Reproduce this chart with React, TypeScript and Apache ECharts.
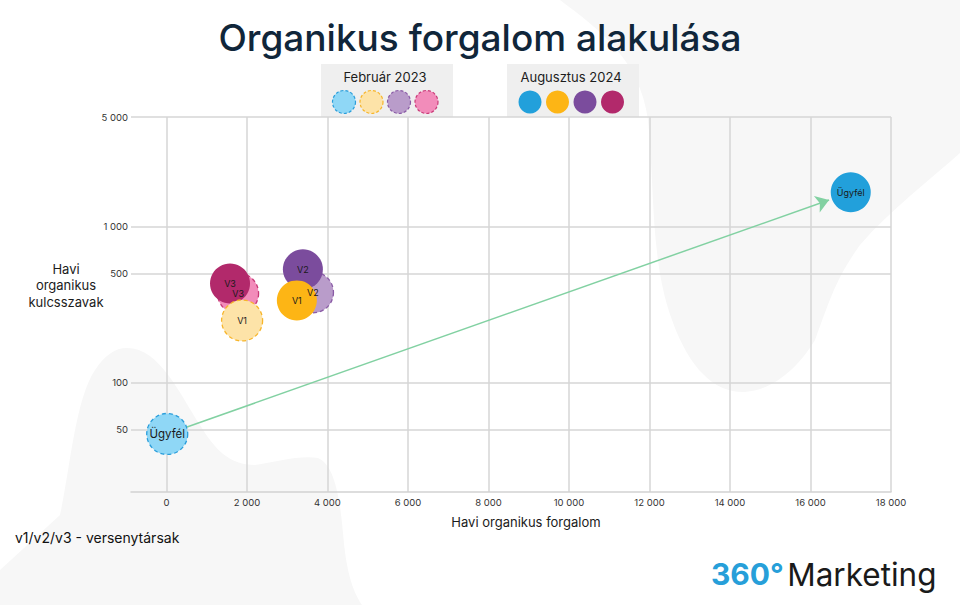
import React, { useEffect, useRef } from "react";
import * as echarts from "echarts";

const FONT = "Inter, 'Noto Sans', sans-serif";

const periods = ["Február 2023", "Augusztus 2024"];
const entities = ["Ügyfél", "V1", "V2", "V3"];

// x: Havi organikus forgalom, y: Havi organikus kulcsszavak
const trafficFeb2023 = [20, 1880, 3640, 1780];
const keywordsFeb2023 = [47, 250, 378, 372];
const trafficAug2024 = [17000, 3240, 3390, 1580];
const keywordsAug2024 = [1650, 336, 531, 431];

const xTicks = [0, 2000, 4000, 6000, 8000, 10000, 12000, 14000, 16000, 18000];
const yTicks = [50, 100, 500, 1000, 5000];

const lightColors = ["#8fd7f6", "#fde3a8", "#b99cca", "#f28cba"];
const lightBorders = ["#2a9edb", "#f7b52a", "#8a5ba6", "#c93a78"];
const darkColors = ["#22a0db", "#fdb515", "#7b4c9d", "#b2296b"];

const blobRight =
  "M560,0 C600,30 640,60 648,120 C655,190 650,260 672,320 C690,370 715,393 745,392 C775,390 800,365 815,340 C830,300 835,280 860,245 C890,210 930,180 960,153 L960,0 Z";
const blobLeft =
  "M0,570 L60,515 C70,470 75,400 95,370 C105,355 115,348 127,348 C160,348 180,395 200,425 C215,450 230,465 255,465 C275,462 300,455 318,458 C335,465 340,500 343,533 C346,570 352,590 362,605 L0,605 Z";

echarts.graphic.registerShape("blobRight", echarts.graphic.extendPath(blobRight, {}));
echarts.graphic.registerShape("blobLeft", echarts.graphic.extendPath(blobLeft, {}));

const fmt = (v: number) => String(v).replace(/\B(?=(\d{3})+(?!\d))/g, " ");

export default function App() {
  const chartRef = useRef<HTMLDivElement>(null);

  useEffect(() => {
    document.body.style.margin = "0";
    if (!chartRef.current) return;
    const chart = echarts.init(chartRef.current, undefined, { renderer: "svg" });

    // draw order: Ügyfél, V3, V2, V1 — older period under the newer one
    const order = [0, 3, 2, 1];
    const series: any[] = [];
    order.forEach((i) => {
      series.push({
        name: periods[0],
        type: "scatter",
        symbolSize: 41,
        data: [{ name: entities[i], value: [trafficFeb2023[i], keywordsFeb2023[i]] }],
        itemStyle: {
          color: lightColors[i],
          borderColor: lightBorders[i],
          borderWidth: 1.3,
          borderType: [4, 3],
          opacity: 1,
        },
        label: {
          show: true,
          position: "inside",
          formatter: "{b}",
          fontSize: i === 0 ? 11.5 : 9,
          color: "#1a1a1a",
          fontFamily: FONT,
        },
        emphasis: { disabled: true },
      });
      series.push({
        name: periods[1],
        type: "scatter",
        symbolSize: 40,
        data: [{ name: entities[i], value: [trafficAug2024[i], keywordsAug2024[i]] }],
        itemStyle: { color: darkColors[i], opacity: 1 },
        label: {
          show: true,
          position: "inside",
          formatter: "{b}",
          fontSize: 9,
          color: "#1a1a1a",
          fontFamily: FONT,
        },
        emphasis: { disabled: true },
      });
    });

    series.push({
      id: "arrow",
      type: "scatter",
      data: [],
      silent: true,
    });

    const legendBox = (x: number, title: string, colors: string[], borders: string[] | null) => {
      const children: any[] = [
        { type: "rect", shape: { x: 0, y: 0, width: 132, height: 53 }, style: { fill: "#efefef" } },
        {
          type: "text",
          x: 64,
          y: 13,
          style: {
            text: title,
            fontSize: 13,
            fontFamily: FONT,
            fill: "#1c1c1c",
            align: "center",
            verticalAlign: "middle",
            textAlign: "center",
            textVerticalAlign: "middle",
          },
        },
      ];
      colors.forEach((c, k) => {
        children.push({
          type: "circle",
          shape: { cx: 23 + k * 27.5, cy: 38, r: 11.5 },
          style: borders
            ? { fill: c, stroke: borders[k], lineWidth: 1.2, lineDash: [3, 2] }
            : { fill: c },
        });
      });
      return { type: "group", x, y: 64, z: 10, children };
    };

    const option: any = {
      animation: false,
      backgroundColor: "#ffffff",
      textStyle: { fontFamily: FONT },
      grid: { left: 131, right: 69, top: 117, bottom: 113, containLabel: false },
      xAxis: {
        type: "value",
        min: -880,
        max: 18000,
        name: "Havi organikus forgalom",
        nameLocation: "middle",
        nameGap: 23,
        nameTextStyle: { fontSize: 13, color: "#1b1b1b", padding: [0, 0, 0, 30], fontFamily: FONT },
        axisLine: { show: true, onZero: false, lineStyle: { color: "#d2d2d2", width: 1.5 } },
        axisTick: { show: false, customValues: xTicks },
        axisLabel: { customValues: xTicks, formatter: fmt, fontSize: 9.5, color: "#333", margin: 5, fontFamily: FONT },
        splitLine: { show: true, lineStyle: { color: "#d6d6d6", width: 1.5 } },
      },
      yAxis: {
        type: "log",
        logBase: 10,
        min: 20,
        max: 5000,
        axisLine: { show: false },
        axisTick: { show: false, customValues: yTicks },
        axisLabel: { customValues: yTicks, formatter: fmt, fontSize: 9.5, color: "#333", margin: 3, fontFamily: FONT },
        splitLine: { show: true, lineStyle: { color: "#d6d6d6", width: 1.5 } },
      },
      graphic: [
        { type: "blobRight", x: 0, y: 0, z: -10, silent: true, style: { fill: "#f7f7f7" } },
        { type: "blobLeft", x: 0, y: 0, z: -10, silent: true, style: { fill: "#f7f7f7" } },
        {
          type: "text",
          x: 480,
          y: 37,
          z: 10,
          style: {
            text: "Organikus forgalom alakulása",
            fontSize: 37,
            fontWeight: 500,
            fontFamily: FONT,
            fill: "#10263a",
            align: "center",
            verticalAlign: "middle",
            textAlign: "center",
            textVerticalAlign: "middle",
          },
        },
        legendBox(321, periods[0], lightColors, lightBorders),
        legendBox(507, periods[1], darkColors, null),
        {
          // y axis title
          type: "text",
          x: 66,
          y: 285,
          z: 10,
          style: {
            text: "Havi\norganikus\nkulcsszavak",
            fontSize: 13,
            lineHeight: 16.5,
            fontFamily: FONT,
            fill: "#1b1b1b",
            align: "center",
            verticalAlign: "middle",
            textAlign: "center",
            textVerticalAlign: "middle",
          },
        },
        {
          type: "text",
          x: 15,
          y: 537,
          z: 10,
          style: {
            text: "v1/v2/v3 - versenytársak",
            fontSize: 14,
            fontFamily: FONT,
            fill: "#111",
            verticalAlign: "middle",
            textVerticalAlign: "middle",
          },
        },
        {
          type: "text",
          x: 711,
          y: 574,
          z: 10,
          style: {
            text: "{a|360°} {b|Marketing}",
            verticalAlign: "middle",
            textVerticalAlign: "middle",
            rich: {
              a: { fontSize: 30, fontWeight: 700, fontFamily: FONT, fill: "#279fd9", color: "#279fd9" },
              b: { fontSize: 31.5, fontWeight: 400, fontFamily: FONT, fill: "#1a1a1a", color: "#1a1a1a" },
            },
          },
        },
      ],
      series,
    };

    chart.setOption(option);

    // arrow from the 2023 client bubble to the 2024 one, trimmed to the bubble edges
    const p0 = chart.convertToPixel({ gridIndex: 0 }, [trafficFeb2023[0], keywordsFeb2023[0]]) as number[];
    const p1 = chart.convertToPixel({ gridIndex: 0 }, [trafficAug2024[0], keywordsAug2024[0]]) as number[];
    const dx = p1[0] - p0[0];
    const dy = p1[1] - p0[1];
    const len = Math.hypot(dx, dy);
    const a = [p0[0] + (dx * 21) / len, p0[1] + (dy * 21) / len];
    const b = [p1[0] - (dx * 23) / len, p1[1] - (dy * 23) / len];
    const ca = chart.convertFromPixel({ gridIndex: 0 }, a) as number[];
    const cb = chart.convertFromPixel({ gridIndex: 0 }, b) as number[];
    chart.setOption({
      series: [
        {
          id: "arrow",
          markLine: {
            silent: true,
            symbol: ["none", "arrow"],
            symbolSize: 13,
            label: { show: false },
            lineStyle: { color: "#82d1a2", width: 1.5, type: "solid" },
            emphasis: { disabled: true },
            data: [[{ coord: ca }, { coord: cb }]],
          },
        },
      ],
    });

    return () => {
      chart.dispose();
    };
  }, []);

  return <div ref={chartRef} style={{ width: 960, height: 605 }} />;
}
